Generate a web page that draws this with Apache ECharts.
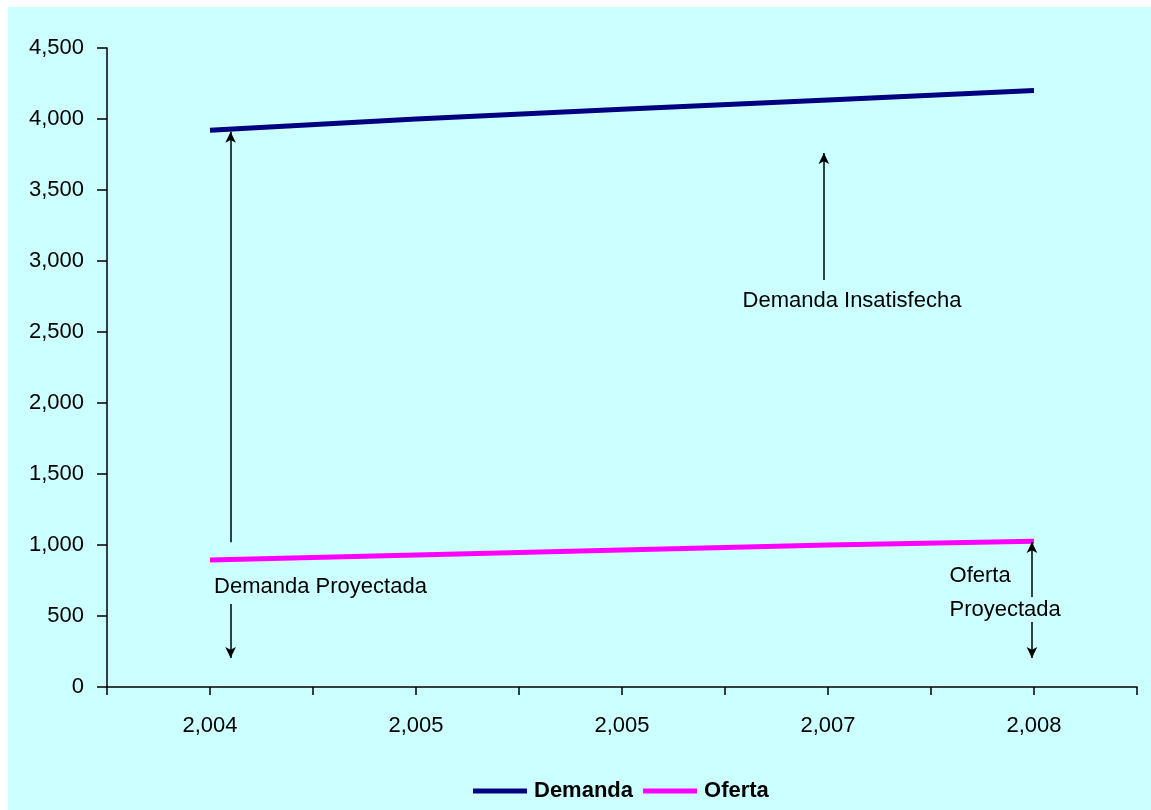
<!DOCTYPE html>
<html>
<head>
<meta charset="utf-8">
<script src="https://cdn.jsdelivr.net/npm/echarts@6/dist/echarts.min.js"></script>
<style>
html,body{margin:0;padding:0;background:#ffffff;}
#chart{position:absolute;left:8px;top:7px;width:1143px;height:803px;}
</style>
</head>
<body>
<div id="chart"></div>
<script>
const years = ['2,004', '2,005', '2,005', '2,007', '2,008'];
const demanda = [3920, 4000, 4068, 4134, 4200];
const oferta = [895, 930, 965, 1000, 1027];
const yTicks = [0, 500, 1000, 1500, 2000, 2500, 3000, 3500, 4000, 4500];

// annotation arrows: [x (category position), yFrom, yTo]
const arrows = [
  [0.1, 1020, 3910],
  [0.1, 585, 204],
  [2.98, 2866, 3760],
  [3.99, 634, 1021],
  [3.99, 458, 204]
];
// annotation texts: [x, y, text]
const notes = [
  [0.02, 705, 'Demanda Proyectada'],
  [2.585, 2719, 'Demanda Insatisfecha'],
  [3.59, 785, 'Oferta'],
  [3.59, 545, 'Proyectada']
];

const FONT = "'Liberation Sans Narrow','Arial Narrow','Liberation Sans',Arial,sans-serif";
const chart = echarts.init(document.getElementById('chart'));
const fmt = v => v.toString().replace(/\B(?=(\d{3})+(?!\d))/g, ',');

chart.setOption({
  backgroundColor: '#CCFFFF',
  animation: false,
  grid: { left: 99, right: 14, top: 41, bottom: 123, containLabel: false },
  xAxis: {
    type: 'value', min: -0.5, max: 4.5, interval: 0.5,
    axisLine: { lineStyle: { color: '#000', width: 1.5 } },
    axisTick: { show: true, length: 8, lineStyle: { color: '#000', width: 1.5 } },
    splitLine: { show: false },
    axisLabel: {
      margin: 28, color: '#000', fontFamily: FONT, fontSize: 22,
      showMinLabel: true, showMaxLabel: true,
      formatter: v => (Math.abs(v - Math.round(v)) < 1e-6 && v >= 0 && v <= 4) ? years[Math.round(v)] : ''
    }
  },
  yAxis: {
    type: 'value', min: yTicks[0], max: yTicks[yTicks.length - 1], interval: 500,
    axisLine: { show: true, onZero: false, lineStyle: { color: '#000', width: 1.5 } },
    axisTick: { show: true, length: 10, lineStyle: { color: '#000', width: 1.5 } },
    splitLine: { show: false },
    axisLabel: { margin: 23, color: '#000', fontFamily: FONT, fontSize: 22, formatter: v => fmt(v) }
  },
  legend: {
    left: 460, top: 768, itemWidth: 54, itemHeight: 5, itemGap: 10,
    icon: 'rect',
    textStyle: { fontFamily: FONT, fontSize: 22, fontWeight: 'bold', color: '#000', padding: [0, 0, 0, 2] },
    data: ['Demanda', 'Oferta']
  },
  series: [
    {
      name: 'Demanda', type: 'line', showSymbol: false, symbol: 'none',
      data: demanda.map((v, i) => [i, v]),
      lineStyle: { color: '#000080', width: 5 }, itemStyle: { color: '#000080' }
    },
    {
      name: 'Oferta', type: 'line', showSymbol: false, symbol: 'none',
      data: oferta.map((v, i) => [i, v]),
      lineStyle: { color: '#FF00FF', width: 5 }, itemStyle: { color: '#FF00FF' }
    },
    {
      name: 'arrows', type: 'line', data: [], silent: true,
      markLine: {
        silent: true, animation: false,
        symbol: ['none', 'arrow'], symbolSize: [8, 11],
        label: { show: false },
        lineStyle: { color: '#000', width: 1.5, type: 'solid' },
        emphasis: { disabled: true },
        data: arrows.map(a => [{ coord: [a[0], a[1]] }, { coord: [a[0], a[2]] }])
      }
    },
    {
      name: 'notes', type: 'scatter', symbolSize: 0, silent: true,
      itemStyle: { opacity: 1 },
      data: notes.map(n => [n[0], n[1], n[2]]),
      label: {
        show: true, position: 'right', distance: 0,
        formatter: p => p.data[2],
        color: '#000', fontFamily: FONT, fontSize: 22
      }
    }
  ]
});
</script>
</body>
</html>
